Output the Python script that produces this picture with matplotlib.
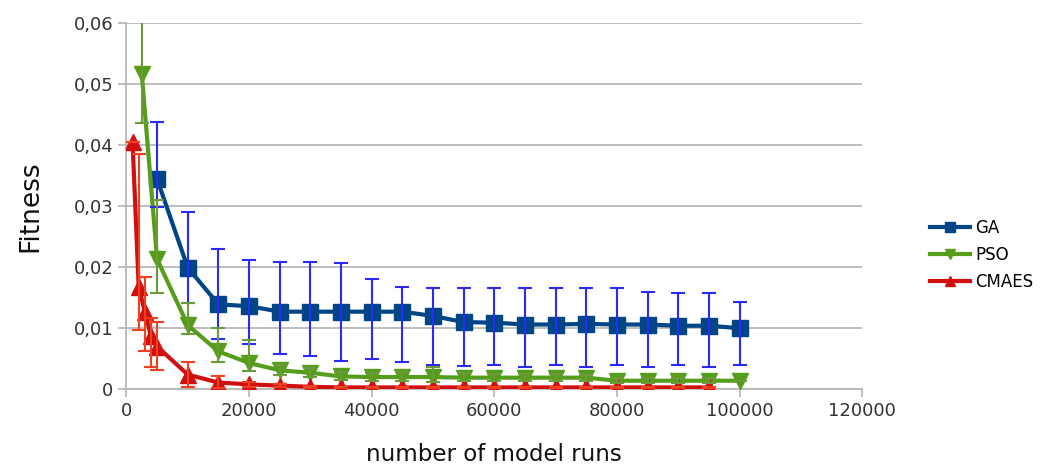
import matplotlib
matplotlib.use('Agg')
import matplotlib.pyplot as plt
import matplotlib.ticker as mticker
import numpy as np

plt.rcParams['font.family'] = ['DejaVu Sans']

# data
ga_x = [5000, 10000, 15000, 20000, 25000, 30000, 35000, 40000, 45000, 50000,
        55000, 60000, 65000, 70000, 75000, 80000, 85000, 90000, 95000, 100000]
ga_y = [0.0344, 0.0199, 0.0139, 0.0136, 0.0127, 0.0127, 0.0127, 0.0127, 0.0127, 0.0120,
        0.0110, 0.0109, 0.0106, 0.0106, 0.0107, 0.0106, 0.0106, 0.0104, 0.0104, 0.0100]
ga_hi = [0.0438, 0.0290, 0.0230, 0.0212, 0.0208, 0.0208, 0.0206, 0.0181, 0.0168, 0.0166,
         0.0166, 0.0166, 0.0166, 0.0166, 0.0166, 0.0166, 0.0160, 0.0157, 0.0157, 0.0143]
ga_lo = [0.0298, 0.0142, 0.0082, 0.0074, 0.0057, 0.0055, 0.0046, 0.0049, 0.0044, 0.0039,
         0.0038, 0.0039, 0.0037, 0.0039, 0.0037, 0.0039, 0.0037, 0.0039, 0.0037, 0.0039]

pso_x = [2500, 5000, 10000, 15000, 20000, 25000, 30000, 35000, 40000, 45000, 50000,
         55000, 60000, 65000, 70000, 75000, 80000, 85000, 90000, 95000, 100000]
pso_y = [0.0516, 0.0213, 0.0105, 0.0062, 0.0043, 0.0031, 0.0027, 0.0021, 0.0020, 0.0020, 0.0020,
         0.0019, 0.0019, 0.0019, 0.0019, 0.0019, 0.0014, 0.0014, 0.0014, 0.0014, 0.0014]
pso_hi = [0.0620, 0.0310, 0.0142, 0.0100, 0.0081, 0.0040, 0.0035, 0.0028, 0.0027, 0.0028, 0.0036,
          0.0026, 0.0025, 0.0025, 0.0025, 0.0024, 0.0019, 0.0019, 0.0019, 0.0019, 0.0014]
pso_lo = [0.0436, 0.0158, 0.0090, 0.0045, 0.0030, 0.0024, 0.0020, 0.0015, 0.0014, 0.0014, 0.0012,
          0.0013, 0.0013, 0.0013, 0.0013, 0.0013, 0.0010, 0.0010, 0.0010, 0.0010, 0.0014]

cmaes_x = [1000, 2000, 3000, 4000, 5000, 10000, 15000, 20000, 25000, 30000, 35000, 40000,
           45000, 50000, 55000, 60000, 65000, 70000, 75000, 80000, 85000, 90000, 95000]
cmaes_y = [0.0404, 0.0167, 0.0127, 0.0087, 0.0070, 0.0024, 0.0011, 0.0008, 0.0006, 0.0004, 0.0003, 0.0003,
           0.0003, 0.0003, 0.0003, 0.0003, 0.0003, 0.0003, 0.0003, 0.0003, 0.0003, 0.0003, 0.0003]
cmaes_hi = [0.0404, 0.0385, 0.0184, 0.0116, 0.0110, 0.0044, 0.0021, 0.0012, 0.0008, 0.0006, 0.0004, 0.0004,
            0.0004, 0.0004, 0.0004, 0.0004, 0.0004, 0.0004, 0.0004, 0.0004, 0.0004, 0.0004, 0.0004]
cmaes_lo = [0.0404, 0.0097, 0.0062, 0.0037, 0.0031, 0.0004, 0.0002, 0.0003, 0.0003, 0.0002, 0.0002, 0.0002,
            0.0002, 0.0002, 0.0002, 0.0002, 0.0002, 0.0002, 0.0002, 0.0002, 0.0002, 0.0002, 0.0002]

series = [
    ('GA', ga_x, ga_y, ga_lo, ga_hi, '#004586', '#2a2aff', 's'),
    ('PSO', pso_x, pso_y, pso_lo, pso_hi, '#579d1c', '#6a9a3a', 'v'),
    ('CMAES', cmaes_x, cmaes_y, cmaes_lo, cmaes_hi, '#d01010', '#f04020', '^'),
]

fig = plt.figure(figsize=(10.45, 4.69), dpi=100)
ax = fig.add_axes([0.121, 0.170, 0.704, 0.7816])

for name, x, y, lo, hi, col, ecol, mk in series:
    y = np.array(y)
    yerr = [y - np.array(lo), np.array(hi) - y]
    ax.plot(x, y, color=col, lw=3, marker=mk, ms=11, label=name, zorder=3)
    ax.errorbar(x, y, yerr=yerr, fmt='none', ecolor=ecol, elinewidth=1.5,
                capsize=5, capthick=1.5, zorder=4)

ax.set_xlim(0, 120000)
ax.set_ylim(0, 0.06)
ax.set_xticks(np.arange(0, 120001, 20000))
ax.set_yticks(np.arange(0, 0.0601, 0.01))
ax.yaxis.set_major_formatter(mticker.FuncFormatter(
    lambda v, p: '0' if abs(v) < 1e-9 else f'{v:.2f}'.replace('.', ',')))

ax.grid(axis='y', color='#b3b3b3', lw=1.2)
ax.set_axisbelow(True)
for s in ['top', 'right']:
    ax.spines[s].set_visible(False)
for s in ['left', 'bottom']:
    ax.spines[s].set_color('#b3b3b3')
    ax.spines[s].set_linewidth(1.2)
ax.tick_params(axis='both', colors='#b3b3b3', length=6, width=1.2, labelsize=13,
               labelcolor='#333333')

ax.set_xlabel('number of model runs', fontsize=16.5, labelpad=16, color='#111111')
ax.set_ylabel('Fitness', fontsize=19, labelpad=22, color='#111111')

fig.legend(loc='center left', bbox_to_anchor=(0.876, 0.457), frameon=False,
           fontsize=12, handlelength=2.4, handletextpad=0.3, labelspacing=0.55,
           markerscale=0.7)

fig.savefig('out.png', dpi=100)
